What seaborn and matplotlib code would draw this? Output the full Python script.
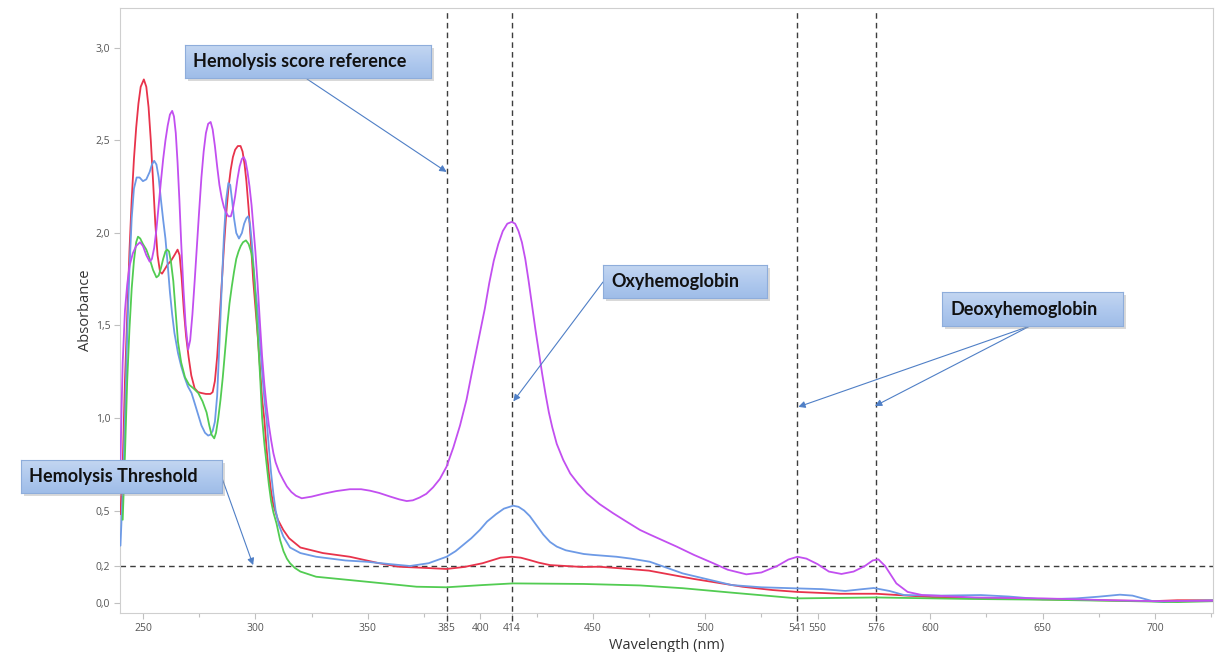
import numpy as np
import pandas as pd
import matplotlib
matplotlib.use("Agg")
import matplotlib.pyplot as plt
import seaborn as sns
from matplotlib.colors import LinearSegmentedColormap
from matplotlib.patches import Rectangle

# ---------------- data ----------------
wl_red = [240, 241, 242, 243, 244, 245, 246, 247, 248, 249, 250.4, 251.5, 252.5, 253.5, 254.5, 255.5, 256.5,
          257.6, 258.5, 259.5, 261, 262.5, 264, 265.4, 266.3, 267.2, 268.2, 269.2, 270.3, 271.5, 273, 274.5,
          276, 278, 280, 281, 282, 283, 284, 285, 286, 287, 288, 289, 290, 291, 292.2, 293.4, 294.3, 295.2,
          296, 297, 298, 299, 300, 301, 302, 303, 304, 305, 306, 307, 308, 310, 312.4, 315, 320, 330, 342,
          355, 364, 375, 385, 393, 401, 405, 409, 414, 418, 422, 426, 431, 445, 453, 465, 475, 495, 516.6,
          530, 541, 560, 576, 601, 625, 650, 675, 699, 710, 727]
abs_red = [0.48, 0.75, 1.2, 1.55, 1.9, 2.18, 2.4, 2.57, 2.7, 2.79, 2.83, 2.79, 2.68, 2.5, 2.28, 2.05, 1.88,
           1.79, 1.78, 1.8, 1.83, 1.85, 1.88, 1.91, 1.88, 1.76, 1.58, 1.44, 1.33, 1.23, 1.16, 1.14,
           1.135, 1.13, 1.13, 1.14, 1.2, 1.33, 1.52, 1.72, 1.92, 2.1, 2.24, 2.34, 2.41, 2.45, 2.47, 2.47, 2.44, 2.37,
           2.28, 2.13, 1.95, 1.75, 1.6, 1.45, 1.28, 1.1, 0.99, 0.83, 0.7, 0.6, 0.53, 0.45, 0.395, 0.35, 0.30, 0.27, 0.25,
           0.215, 0.196, 0.19, 0.184, 0.195, 0.215, 0.23, 0.245, 0.25, 0.245, 0.232, 0.218, 0.205, 0.195, 0.196, 0.185,
           0.175, 0.13, 0.088, 0.07, 0.06, 0.05, 0.05, 0.032, 0.025, 0.02, 0.015, 0.01, 0.015, 0.015]

wl_blue = [240, 241, 242, 243, 244, 245, 246, 247.2, 248.5, 250, 251.5, 253, 254, 255, 256, 257, 258, 259, 260,
           261, 262, 263, 264, 265.6, 267, 268.5, 270, 271.6, 273, 274.5, 276, 277.6, 279, 280, 281, 282, 283,
           284, 285, 286, 287, 288, 288.8, 289.6, 290.5, 291.5, 292.7, 294, 295, 296, 296.8, 297.6, 298.4,
           299.2, 300, 301, 302, 303, 304, 305, 306, 307, 308, 309, 310.5, 312.4, 315.4, 320, 327, 340, 349.5,
           360, 368.7, 377, 385, 389, 392, 396, 399.8, 403, 407, 410.5, 414.6, 417, 419.5, 422, 425, 428, 431,
           434, 438, 442, 446, 450.2, 460.6, 467, 475.4, 490, 511.8, 525, 541, 552, 562.3, 570, 575, 582, 588.4,
           605, 622.6, 635, 650, 665, 674.8, 684.4, 690, 699, 704, 715, 727]
abs_blue = [0.31, 0.6, 1.0, 1.45, 1.8, 2.08, 2.24, 2.30, 2.30, 2.28, 2.29, 2.33, 2.37, 2.39, 2.37, 2.3, 2.18,
            2.07, 1.97, 1.83, 1.68, 1.56, 1.46, 1.35, 1.28, 1.22, 1.17, 1.135, 1.08, 1.02, 0.96, 0.92, 0.905,
            0.91, 0.93, 0.98, 1.12, 1.4, 1.7, 1.98, 2.18, 2.27, 2.26, 2.18, 2.08, 2.0, 1.97, 2.0, 2.05, 2.08, 2.09,
            2.05, 1.95, 1.82, 1.7, 1.58, 1.42, 1.25, 1.1, 0.99, 0.84, 0.7, 0.59, 0.5, 0.42, 0.36, 0.30, 0.27, 0.25,
            0.23, 0.223, 0.21, 0.20, 0.215, 0.25, 0.28, 0.31, 0.35, 0.395, 0.44, 0.48, 0.51, 0.526, 0.52, 0.5,
            0.47, 0.42, 0.37, 0.33, 0.305, 0.285, 0.275, 0.265, 0.26, 0.25, 0.24, 0.223, 0.16, 0.097, 0.085, 0.079,
            0.075, 0.065, 0.075, 0.081, 0.065, 0.043, 0.04, 0.043, 0.035, 0.02, 0.025, 0.034, 0.045, 0.04, 0.01,
            0.005, 0.012, 0.015]

wl_green = [241, 242, 243, 244, 245, 246, 247, 247.8, 248.8, 250, 251.5, 253, 254.5, 256, 257, 258, 259, 260,
            260.8, 261.6, 262.5, 263.5, 264.5, 265.6, 267, 268.7, 270.5, 272.5, 274.6, 276.5, 278.3, 279.5,
            280.5, 281.7, 282.5, 283.5, 284.5, 285.5, 286.5, 287.5, 288.5, 289.5, 290.5, 291.5, 292.5, 293.5,
            294.5, 295.8, 297, 298.3, 299.2, 300.2, 301.2, 302.2, 303, 304, 305, 306, 307, 308, 309.4, 311,
            312.5, 314, 315.4, 317.5, 320, 327, 349.5, 371.7, 385, 401, 414.6, 445.8, 471, 490, 511.8, 541, 576,
            617, 650, 690, 710, 727]
abs_green = [0.45, 0.8, 1.2, 1.48, 1.7, 1.85, 1.95, 1.98, 1.97, 1.94, 1.91, 1.86, 1.8, 1.76, 1.77, 1.81, 1.86,
             1.9, 1.91, 1.9, 1.84, 1.74, 1.58, 1.41, 1.3, 1.22, 1.18, 1.16, 1.135, 1.09, 1.03, 0.96, 0.91, 0.89,
             0.92, 1.0, 1.1, 1.22, 1.36, 1.5, 1.62, 1.71, 1.79, 1.86, 1.9, 1.93, 1.95, 1.96, 1.94, 1.89, 1.8, 1.62,
             1.42, 1.2, 1.0, 0.86, 0.75, 0.64, 0.55, 0.49, 0.43, 0.34, 0.28, 0.24, 0.215, 0.19, 0.17, 0.142, 0.115,
             0.088, 0.085, 0.097, 0.106, 0.103, 0.095, 0.08, 0.056, 0.025, 0.03, 0.022, 0.018, 0.01, 0.005, 0.01]

wl_magenta = [240, 240.5, 241, 242, 243, 244, 245.5, 247, 248.7, 250, 251.5, 253, 254, 255, 256, 257, 258, 259,
              260, 261, 262, 263, 263.8, 264.6, 265.4, 266.2, 267, 268, 269, 270.1, 271, 272, 273, 274, 275, 276,
              277, 278, 279, 280.1, 281, 282, 283, 284, 285, 286, 287, 288, 289.1, 290, 291, 292, 293, 294,
              294.8, 295.6, 296.5, 297.4, 298.3, 299.2, 300, 301, 302, 303, 304, 305, 306, 307, 308, 309, 310.5,
              312.4, 314, 316, 318, 320.6, 325, 330, 336, 342, 347, 351, 355, 360, 364, 367.3, 370, 373, 376,
              379, 382, 385, 388, 391, 393.9, 396, 398, 400, 402, 404, 406, 408, 410, 412, 414, 415.5, 417,
              418.5, 420, 421.5, 423, 424.5, 426, 427.5, 429, 430.5, 432, 434, 436.9, 440, 443.5, 447.3, 453,
              459.1, 465, 471, 475.4, 487.3, 495, 503.6, 510, 518.3, 525, 532, 537, 541, 545, 550, 555, 560.6,
              566, 571, 574.5, 577, 580, 585, 590, 596.5, 620, 650, 680, 700, 727]
abs_magenta = [0.75, 1.05, 1.3, 1.58, 1.72, 1.82, 1.89, 1.93, 1.95, 1.93, 1.88, 1.845, 1.86, 1.92, 2.02, 2.15,
               2.28, 2.4, 2.5, 2.58, 2.64, 2.66, 2.63, 2.54, 2.38, 2.18, 1.95, 1.7, 1.5, 1.37, 1.42, 1.56, 1.74,
               1.93, 2.12, 2.3, 2.44, 2.54, 2.59, 2.60, 2.56, 2.47, 2.36, 2.26, 2.19, 2.14, 2.11, 2.09, 2.09, 2.13,
               2.2, 2.29, 2.36, 2.4, 2.41, 2.39, 2.33, 2.25, 2.15, 2.02, 1.9, 1.72, 1.52, 1.33, 1.18, 1.06, 0.96,
               0.88, 0.81, 0.76, 0.71, 0.665, 0.63, 0.6, 0.58, 0.566, 0.575, 0.59, 0.605, 0.615, 0.615, 0.607,
               0.595, 0.575, 0.56, 0.551, 0.555, 0.57, 0.59, 0.625, 0.67, 0.737, 0.84, 0.96, 1.10, 1.23, 1.35,
               1.47, 1.59, 1.73, 1.85, 1.94, 2.01, 2.05, 2.06, 2.05, 2.01, 1.95, 1.86, 1.74, 1.61, 1.48, 1.36,
               1.24, 1.13, 1.03, 0.95, 0.86, 0.773, 0.7, 0.645, 0.593, 0.535, 0.485, 0.44, 0.395, 0.37, 0.305,
               0.26, 0.215, 0.18, 0.155, 0.165, 0.2, 0.235, 0.25, 0.24, 0.21, 0.17, 0.157, 0.17, 0.2, 0.23, 0.236,
               0.2, 0.106, 0.06, 0.043, 0.03, 0.025, 0.015, 0.01, 0.012]

series_names = ["red", "blue", "green", "magenta"]
series_colors = ["#e8334b", "#6d9ae6", "#52cc52", "#c24ff0"]

x_ticks = [250, 300, 350, 385, 400, 414, 450, 500, 541, 550, 576, 600, 650, 700]
x_minor = [275, 325, 375, 425, 475, 525, 625, 675, 725]
y_ticks = [0.0, 0.2, 0.5, 1.0, 1.5, 2.0, 2.5, 3.0]
marker_lines = [385, 414, 541, 576]
threshold = 0.2

annotations = [
    # text, box (x0, y0, x1, y1) in px, arrow targets in data, arrow start px
    ("Hemolysis score reference", (185, 45, 431, 78), [(385, 2.33)], (307, 79)),
    ("Hemolysis Threshold", (21, 460, 222, 493), [(299, 0.205)], (222, 478)),
    ("Oxyhemoglobin", (603, 265, 767, 298), [(414.7, 1.09)], (603, 282)),
    ("Deoxyhemoglobin", (942, 292, 1123, 326), [(541.4, 1.06), (575.5, 1.065)], (1030, 326)),
]

# ---------------- build data frame ----------------
frames = []
for name, wl, ab in [("red", wl_red, abs_red), ("blue", wl_blue, abs_blue),
                     ("green", wl_green, abs_green), ("magenta", wl_magenta, abs_magenta)]:
    frames.append(pd.DataFrame({"wl": wl, "abs": ab, "series": name}))
df = pd.concat(frames, ignore_index=True)

sns.set_style("white")
plt.rcParams["font.family"] = ["Open Sans", "DejaVu Sans"]

W, H = 1215, 652
fig = plt.figure(figsize=(W / 100, H / 100), dpi=100)
fig.patch.set_facecolor("white")
ax = fig.add_axes([120 / W, (H - 613) / H, (1213 - 120) / W, (613 - 8) / H])
ax.set_facecolor("none")

sns.lineplot(data=df, x="wl", y="abs", hue="series", hue_order=series_names,
             palette=dict(zip(series_names, series_colors)), estimator=None,
             linewidth=1.3, legend=False, ax=ax, zorder=3)

ax.set_xlim(239.8, 725.8)
ax.set_ylim(-0.054, 3.216)

# dashed reference lines
ax.vlines(marker_lines, -0.095, 3.216, colors="#3c3c3c", linestyles=(0, (4, 3)),
          linewidth=1.0, clip_on=False, zorder=2)
ax.axhline(threshold, color="#3c3c3c", linestyle=(0, (4, 3)), linewidth=1.0, zorder=2)

ax.set_xticks(x_ticks)
ax.set_xticklabels([str(t) for t in x_ticks])
ax.set_xticks(x_minor, minor=True)
ax.set_yticks(y_ticks)
ax.set_yticklabels([f"{t:.1f}".replace(".", ",") for t in y_ticks])
ax.tick_params(axis="both", which="major", length=4, width=0.8, color="#c0c0c0",
               labelsize=7.5, labelcolor="#555555", pad=3)
ax.tick_params(axis="x", which="minor", length=3, width=0.8, color="#c0c0c0", bottom=True)
ax.tick_params(axis="x", bottom=True)
ax.tick_params(axis="y", left=True)
for s in ax.spines.values():
    s.set_color("#cfcfcf")
    s.set_linewidth(0.8)

ax.set_xlabel("Wavelength (nm)", fontsize=10.5, color="#333333", labelpad=3)
ax.set_ylabel("Absorbance", fontsize=10.5, color="#333333", labelpad=2)

# ---------------- annotation boxes ----------------
cmap = LinearSegmentedColormap.from_list("box", ["#c3d6f1", "#b0c9ee", "#9fbde8"])
grad = np.linspace(0, 1, 64).reshape(-1, 1)
for text, (x0, y0, x1, y1), targets, (sx, sy) in annotations:
    # shadow
    fig.add_artist(Rectangle(((x0 + 3) / W, (H - y1 - 3) / H), (x1 - x0) / W, (y1 - y0) / H,
                             transform=fig.transFigure, facecolor="#a0a0a0", alpha=0.4,
                             edgecolor="none", zorder=4))
    bax = fig.add_axes([x0 / W, (H - y1) / H, (x1 - x0) / W, (y1 - y0) / H], zorder=5)
    bax.imshow(grad, aspect="auto", cmap=cmap, extent=(0, 1, 0, 1), origin="upper")
    bax.set_xticks([])
    bax.set_yticks([])
    for s in bax.spines.values():
        s.set_color("#8eaddb")
        s.set_linewidth(0.8)
    bax.text(8 / (x1 - x0), 0.5, text, transform=bax.transAxes, ha="left", va="center",
             fontsize=13, fontweight="bold", color="#111111", family=["Lato", "DejaVu Sans"])
    for tx, ty in targets:
        ax.annotate("", xy=(tx, ty), xycoords="data", xytext=(sx, H - sy),
                    textcoords="figure pixels", annotation_clip=False,
                    arrowprops=dict(arrowstyle="-|>", color="#4f7fc6", lw=0.8,
                                    mutation_scale=10, shrinkA=0, shrinkB=0))

fig.savefig("out.png", dpi=100)
